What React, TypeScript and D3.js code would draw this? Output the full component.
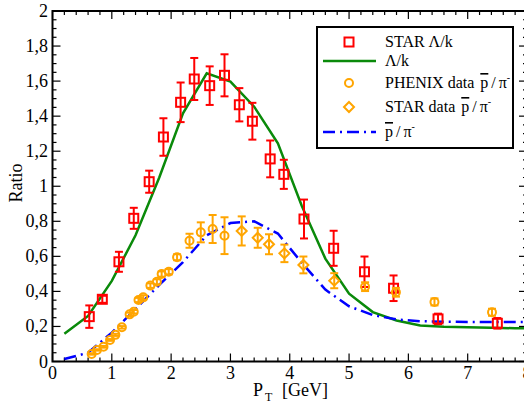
import React from "react";
import * as d3 from "d3";

// STAR Lambda/K data
const starLkX = [0.62, 0.84, 1.12, 1.37, 1.63, 1.87, 2.16, 2.39, 2.65, 2.9, 3.15, 3.37, 3.67, 3.9, 4.24, 4.74, 5.26, 5.75, 6.5, 7.5];
const starLkY = [0.256, 0.355, 0.569, 0.817, 1.026, 1.281, 1.479, 1.612, 1.574, 1.633, 1.465, 1.371, 1.156, 1.068, 0.813, 0.646, 0.512, 0.418, 0.243, 0.218];
const starLkErr = [0.064, 0.02, 0.057, 0.06, 0.063, 0.107, 0.113, 0.12, 0.11, 0.12, 0.095, 0.105, 0.105, 0.083, 0.111, 0.1, 0.087, 0.073, 0.03, 0.03];

// Lambda/K model curve
const lkCurveX = [0.2, 0.6, 1.0, 1.4, 1.8, 2.2, 2.6, 3.0, 3.4, 3.8, 4.2, 4.6, 5.0, 5.4, 5.8, 6.2, 6.6, 7.0, 7.4, 7.8, 8.2];
const lkCurveY = [0.158, 0.26, 0.46, 0.72, 1.05, 1.416, 1.644, 1.597, 1.454, 1.245, 0.89, 0.587, 0.387, 0.282, 0.234, 0.206, 0.198, 0.195, 0.192, 0.19, 0.19];

// PHENIX pbar/pi- data
const phenixX = [0.66, 0.75, 0.86, 0.97, 1.06, 1.17, 1.3, 1.37, 1.45, 1.53, 1.65, 1.76, 1.84, 1.96, 2.1, 2.31, 2.5, 2.7, 2.9, 5.27, 5.79, 6.44, 7.41];
const phenixY = [0.043, 0.066, 0.084, 0.123, 0.152, 0.195, 0.269, 0.284, 0.351, 0.366, 0.433, 0.455, 0.499, 0.512, 0.595, 0.689, 0.737, 0.756, 0.718, 0.427, 0.395, 0.34, 0.281];
const phenixErr = [0.004, 0.004, 0.005, 0.005, 0.006, 0.007, 0.01, 0.01, 0.012, 0.012, 0.013, 0.014, 0.015, 0.015, 0.017, 0.04, 0.057, 0.08, 0.105, 0.025, 0.025, 0.02, 0.02];

// STAR pbar/pi- data
const starPpX = [3.19, 3.46, 3.65, 3.91, 4.23, 4.75];
const starPpY = [0.745, 0.706, 0.669, 0.617, 0.551, 0.461];
const starPpErr = [0.083, 0.057, 0.057, 0.05, 0.048, 0.043];

// pbar/pi- model curve
const ppCurveX = [0.2, 0.6, 1.0, 1.4, 1.8, 2.2, 2.6, 3.0, 3.4, 3.8, 4.2, 4.6, 5.0, 5.4, 5.8, 6.2, 6.6, 7.0, 7.4, 7.8, 8.2];
const ppCurveY = [0.014, 0.05, 0.165, 0.3, 0.437, 0.567, 0.72, 0.79, 0.8, 0.73, 0.565, 0.41, 0.315, 0.265, 0.24, 0.23, 0.227, 0.226, 0.225, 0.225, 0.225];

const xTicks = [0, 1, 2, 3, 4, 5, 6, 7, 8];
const yTicks = [0, 0.2, 0.4, 0.6, 0.8, 1.0, 1.2, 1.4, 1.6, 1.8, 2.0];

const W = 524;
const H = 404;
const FONT = "'Liberation Serif', 'Times New Roman', serif";
const RED = "#ff0000";
const ORANGE = "#ffa500";
const GREEN = "#0a8a0a";
const BLUE = "#0000ff";

export default function App() {
  const x = d3.scaleLinear().domain([0, 8]).range([52.5, 527]);
  const y = d3.scaleLinear().domain([0, 2]).range([361.5, 11]);
  const [x0, x1] = x.range();
  const [yb, yt] = y.range();

  const line = d3
    .line<[number, number]>()
    .x((d) => x(d[0]))
    .y((d) => y(d[1]));
  const lkPath = line(lkCurveX.map((v, i) => [v, lkCurveY[i]]) as [number, number][]) || "";
  const ppPath = line(ppCurveX.map((v, i) => [v, ppCurveY[i]]) as [number, number][]) || "";

  const fmt = (v: number) => (Number.isInteger(v) ? String(v) : d3.format(".1f")(v).replace(".", ","));

  const xMinor = d3.range(0, 8.0001, 0.2);
  const yMinor = d3.range(0, 2.0001, 0.05);

  const errBar = (cx: number, cy0: number, cy1: number, color: string, key: string) => {
    const cap = 4;
    return (
      <g key={key} stroke={color} strokeWidth={2} fill="none">
        <line x1={cx} x2={cx} y1={cy0} y2={cy1} />
        <line x1={cx - cap} x2={cx + cap} y1={cy0} y2={cy0} />
        <line x1={cx - cap} x2={cx + cap} y1={cy1} y2={cy1} />
      </g>
    );
  };

  const square = (cx: number, cy: number, key: string) => (
    <rect key={key} x={cx - 4.5} y={cy - 4.5} width={9} height={9} fill="none" stroke={RED} strokeWidth={2} />
  );
  const circle = (cx: number, cy: number, key: string) => (
    <circle key={key} cx={cx} cy={cy} r={4} fill="none" stroke={ORANGE} strokeWidth={2} />
  );
  const diamond = (cx: number, cy: number, key: string) => (
    <path key={key} d={`M${cx},${cy - 5}L${cx + 5},${cy}L${cx},${cy + 5}L${cx - 5},${cy}Z`} fill="none" stroke={ORANGE} strokeWidth={2} />
  );

  const pbarPi = (prefix: string, gap: number) => (
    <>
      {prefix}
      <tspan dx={gap} textDecoration="overline">p</tspan>
      <tspan dx={3}>/</tspan>
      <tspan dx={3}>π</tspan>
      <tspan dy={-7} fontSize={10}>-</tspan>
    </>
  );

  const legX = 317;
  const legY = 27;
  const legW = 196;
  const legH = 121;
  const symX = 349;
  const txtX = 385;
  const rows = [42, 61, 83, 107, 132];

  return (
    <svg width={W} height={H} style={{ position: "absolute", left: 0, top: 0 }} fontFamily={FONT}>
      <rect x={0} y={0} width={W} height={H} fill="white" />
      <defs>
        <clipPath id="plotclip">
          <rect x={x0} y={yt} width={x1 - x0} height={yb - yt} />
        </clipPath>
      </defs>

      {/* ticks */}
      <g stroke="black" strokeWidth={1.2}>
        {xMinor.map((v, i) => {
          const major = Math.abs(v - Math.round(v)) < 1e-6;
          const len = major ? 8 : 4;
          return (
            <g key={"xt" + i}>
              <line x1={x(v)} x2={x(v)} y1={yb} y2={yb - len} />
              <line x1={x(v)} x2={x(v)} y1={yt} y2={yt + len} />
            </g>
          );
        })}
        {yMinor.map((v, i) => {
          const major = Math.abs(v * 5 - Math.round(v * 5)) < 1e-6;
          const len = major ? 8 : 4;
          return (
            <g key={"yt" + i}>
              <line x1={x0} x2={x0 + len} y1={y(v)} y2={y(v)} />
              <line x1={x1} x2={x1 - len} y1={y(v)} y2={y(v)} />
            </g>
          );
        })}
      </g>

      {/* curves */}
      <g clipPath="url(#plotclip)">
        <path d={lkPath} fill="none" stroke={GREEN} strokeWidth={2.5} />
        <path d={ppPath} fill="none" stroke={BLUE} strokeWidth={2.5} strokeDasharray="12,5,2,5" />
      </g>

      {/* STAR Lambda/K */}
      {starLkX.map((v, i) => errBar(x(v), y(starLkY[i] + starLkErr[i]), y(starLkY[i] - starLkErr[i]), RED, "le" + i))}
      {starLkX.map((v, i) => square(x(v), y(starLkY[i]), "ls" + i))}

      {/* PHENIX */}
      {phenixX.map((v, i) => errBar(x(v), y(phenixY[i] + phenixErr[i]), y(phenixY[i] - phenixErr[i]), ORANGE, "pe" + i))}
      {phenixX.map((v, i) => circle(x(v), y(phenixY[i]), "pc" + i))}

      {/* STAR pbar/pi */}
      {starPpX.map((v, i) => errBar(x(v), y(starPpY[i] + starPpErr[i]), y(starPpY[i] - starPpErr[i]), ORANGE, "se" + i))}
      {starPpX.map((v, i) => diamond(x(v), y(starPpY[i]), "sd" + i))}

      {/* frame */}
      <rect x={x0} y={yt} width={x1 - x0} height={yb - yt} fill="none" stroke="black" strokeWidth={2} />

      {/* tick labels */}
      <g fontSize={18} fill="black">
        {xTicks.map((v) => (
          <text key={"xl" + v} x={x(v)} y={379} textAnchor="middle">
            {fmt(v)}
          </text>
        ))}
        {yTicks.map((v) => (
          <text key={"yl" + v} x={48} y={y(v) + 6} textAnchor="end">
            {fmt(v)}
          </text>
        ))}
      </g>

      {/* axis titles */}
      <text x={253} y={396} fontSize={18}>
        P
      </text>
      <text x={265} y={401} fontSize={12}>
        T
      </text>
      <text x={282} y={396} fontSize={18}>
        [GeV]
      </text>
      <text transform={`translate(22,${183}) rotate(-90)`} textAnchor="middle" fontSize={18}>
        Ratio
      </text>

      {/* legend */}
      <rect x={legX} y={legY} width={legW} height={legH} fill="white" stroke="black" strokeWidth={2} />
      {square(symX, rows[0], "lg0")}
      <line x1={323} x2={376} y1={rows[1]} y2={rows[1]} stroke={GREEN} strokeWidth={2.5} />
      {circle(symX, rows[2], "lg2")}
      {diamond(symX, rows[3], "lg3")}
      <line x1={323} x2={376} y1={rows[4]} y2={rows[4]} stroke={BLUE} strokeWidth={2.5} strokeDasharray="12,5,2,5" />
      <g fontSize={16} fill="black">
        <text x={txtX} y={rows[0] + 5}>STAR Λ/k</text>
        <text x={txtX} y={rows[1] + 5}>Λ/k</text>
        <text x={txtX} y={rows[2] + 5}>{pbarPi("PHENIX data", 6)}</text>
        <text x={txtX} y={rows[3] + 5}>{pbarPi("STAR data", 6)}</text>
        <text x={txtX} y={rows[4] + 5}>{pbarPi("", 0)}</text>
      </g>
    </svg>
  );
}
